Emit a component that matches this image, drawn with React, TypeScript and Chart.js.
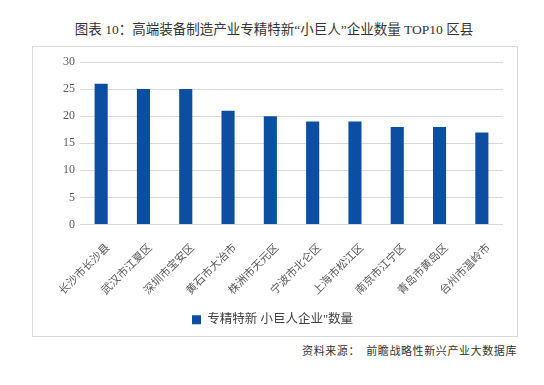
import React, { useEffect, useRef } from "react";
import { Chart, registerables } from "chart.js";

Chart.register(...registerables);

const categories: string[] = [
  "长沙市长沙县",
  "武汉市江夏区",
  "深圳市宝安区",
  "黄石市大冶市",
  "株洲市天元区",
  "宁波市北仑区",
  "上海市松江区",
  "南京市江宁区",
  "青岛市黄岛区",
  "台州市温岭市",
];
const counts: number[] = [26, 25, 25, 21, 20, 19, 19, 18, 18, 17];
const seriesLabel = "专精特新 小巨人企业\"数量";
const titleText = "图表 10：高端装备制造产业专精特新“小巨人”企业数量 TOP10 区县";
const sourceText = "资料来源：  前瞻战略性新兴产业大数据库";
const yMin = 0;
const yMax = 30;
const yStep = 5;

const FONT = "'Liberation Serif', 'Noto Sans CJK SC', serif";

export default function App() {
  const ref = useRef<HTMLCanvasElement | null>(null);

  useEffect(() => {
    if (!ref.current) return;
    const chart = new Chart(ref.current, {
      type: "bar",
      data: {
        labels: categories,
        datasets: [
          {
            label: seriesLabel,
            data: counts,
            backgroundColor: "#0b4ea2",
            borderWidth: 0,
            categoryPercentage: 1,
            barPercentage: 0.31,
          },
        ],
      },
      options: {
        animation: false,
        responsive: false,
        maintainAspectRatio: false,
        layout: { padding: { left: 10, right: 14, top: 16, bottom: 0 } },
        plugins: {
          title: { display: false },
          tooltip: { enabled: false },
          legend: {
            display: true,
            position: "bottom",
            labels: {
              boxWidth: 9,
              boxHeight: 9,
              padding: 10,
              color: "#404040",
              font: { family: FONT, size: 12.5 },
            },
          },
        },
        scales: {
          x: {
            grid: { display: false, drawTicks: false },
            border: { display: false },
            ticks: {
              minRotation: 45,
              maxRotation: 45,
              autoSkip: false,
              padding: 17,
              labelOffset: 7,
              color: "#595959",
              font: { family: FONT, size: 11 },
            },
            afterFit: (scale: any) => {
              scale.height = 79;
            },
          },
          y: {
            min: yMin,
            max: yMax,
            grid: { color: "#d9d9d9", drawTicks: false, lineWidth: 1 },
            border: { display: false },
            ticks: {
              stepSize: yStep,
              padding: 5,
              color: "#595959",
              font: { family: FONT, size: 12 },
            },
            afterFit: (scale: any) => {
              scale.width = 38;
            },
          },
        },
      },
    });
    return () => chart.destroy();
  }, []);

  return (
    <div
      style={{
        position: "absolute",
        left: 0,
        top: 0,
        width: 544,
        height: 385,
        background: "#ffffff",
        overflow: "hidden",
      }}
    >
      <div
        style={{
          position: "absolute",
          left: 0,
          top: 20,
          width: 548,
          textAlign: "center",
          fontFamily: "'Liberation Serif', 'Noto Sans CJK SC', serif",
          fontSize: 13.5,
          lineHeight: "20px",
          color: "#333333",
          whiteSpace: "nowrap",
        }}
      >
        {titleText}
      </div>
      <div
        style={{
          position: "absolute",
          left: 32,
          top: 46,
          width: 486,
          height: 291,
          boxSizing: "border-box",
          border: "1px solid #d9d9d9",
        }}
      />
      <canvas
        ref={ref}
        width={485}
        height={290}
        style={{ position: "absolute", left: 32, top: 46, width: 485, height: 290 }}
      />
      <div
        style={{
          position: "absolute",
          right: 27,
          top: 342,
          fontFamily: "'Noto Sans CJK SC', sans-serif",
          fontSize: 11,
          lineHeight: "16px",
          letterSpacing: "0.6px",
          color: "#333333",
          whiteSpace: "pre",
        }}
      >
        {sourceText}
      </div>
    </div>
  );
}
